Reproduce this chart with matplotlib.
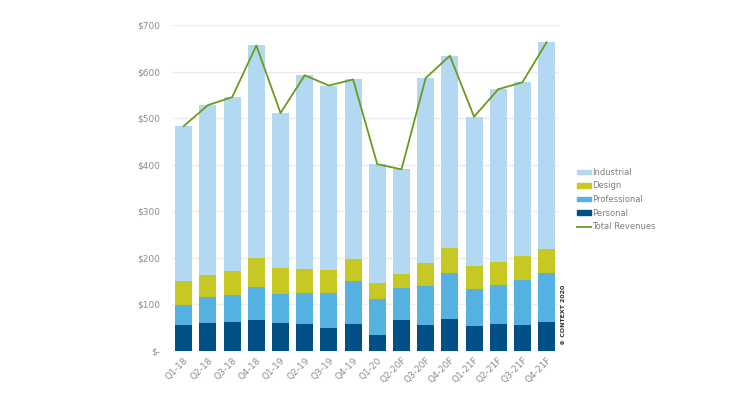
import matplotlib
matplotlib.use('Agg')
import matplotlib.pyplot as plt
import numpy as np
from matplotlib.patches import Patch
from matplotlib.lines import Line2D

quarters = ['Q1-18', 'Q2-18', 'Q3-18', 'Q4-18', 'Q1-19', 'Q2-19', 'Q3-19', 'Q4-19',
            'Q1-20', 'Q2-20F', 'Q3-20F', 'Q4-20F', 'Q1-21F', 'Q2-21F', 'Q3-21F', 'Q4-21F']
personal = [56, 61, 62, 67, 59, 58, 50, 58, 34, 66, 55, 68, 54, 58, 55, 63]
professional = [42, 55, 58, 70, 63, 67, 75, 92, 78, 69, 84, 99, 80, 84, 97, 104]
design = [53, 47, 51, 62, 57, 52, 48, 47, 34, 30, 49, 54, 49, 49, 51, 51]
industrial = [332, 365, 374, 457, 332, 415, 397, 386, 255, 225, 398, 413, 320, 371, 374, 445]
total = [483, 528, 545, 656, 511, 592, 570, 583, 401, 390, 586, 634, 503, 562, 577, 663]

c_ind = '#b3d9f2'
c_des = '#c6c923'
c_pro = '#55b1e1'
c_per = '#004f86'
c_line = '#6b9b1e'
grey = '#8c8c8c'

fig = plt.figure(figsize=(7.4, 3.97), dpi=100)
ax = fig.add_axes([0.232, 0.116, 0.523, 0.821])

x = np.arange(len(quarters))
w = 0.7
b = np.zeros(len(x))
for vals, col in [(personal, c_per), (professional, c_pro), (design, c_des), (industrial, c_ind)]:
    ax.bar(x, vals, w, bottom=b, color=col, zorder=2)
    b += np.array(vals)

ax.plot(x, total, color=c_line, lw=1.3, zorder=3)

ax.set_xlim(-0.5, 15.5)
ax.set_ylim(0, 700)
ax.set_yticks(range(0, 701, 100))
ax.set_yticklabels(['$-'] + ['${}'.format(v) for v in range(100, 701, 100)])
ax.set_xticks(x)
ax.set_xticklabels(quarters, rotation=45, ha='right', rotation_mode='anchor')
ax.tick_params(axis='both', length=0, colors=grey, labelsize=6.5)
ax.tick_params(axis='y', pad=8)
ax.grid(axis='y', color='#ececec', lw=1, zorder=0)
for s in ax.spines.values():
    s.set_visible(False)

handles = [Patch(color=c_ind), Patch(color=c_des), Patch(color=c_pro), Patch(color=c_per),
           Line2D([], [], color=c_line, lw=1.3)]
labels = ['Industrial', 'Design', 'Professional', 'Personal', 'Total Revenues']
leg = fig.legend(handles, labels, loc='upper left', bbox_to_anchor=(0.77, 0.596),
                 frameon=False, fontsize=6, handlelength=1.6, handleheight=0.45,
                 handletextpad=0.2, labelspacing=0.55)
for t in leg.get_texts():
    t.set_color('#7f7f7f')

fig.text(0.762, 0.13, '\u00a9 CONTEXT 2020', rotation=90, fontsize=4.5, fontweight='bold',
         color='#333333', ha='center', va='bottom')

fig.savefig('out.png', dpi=100)
